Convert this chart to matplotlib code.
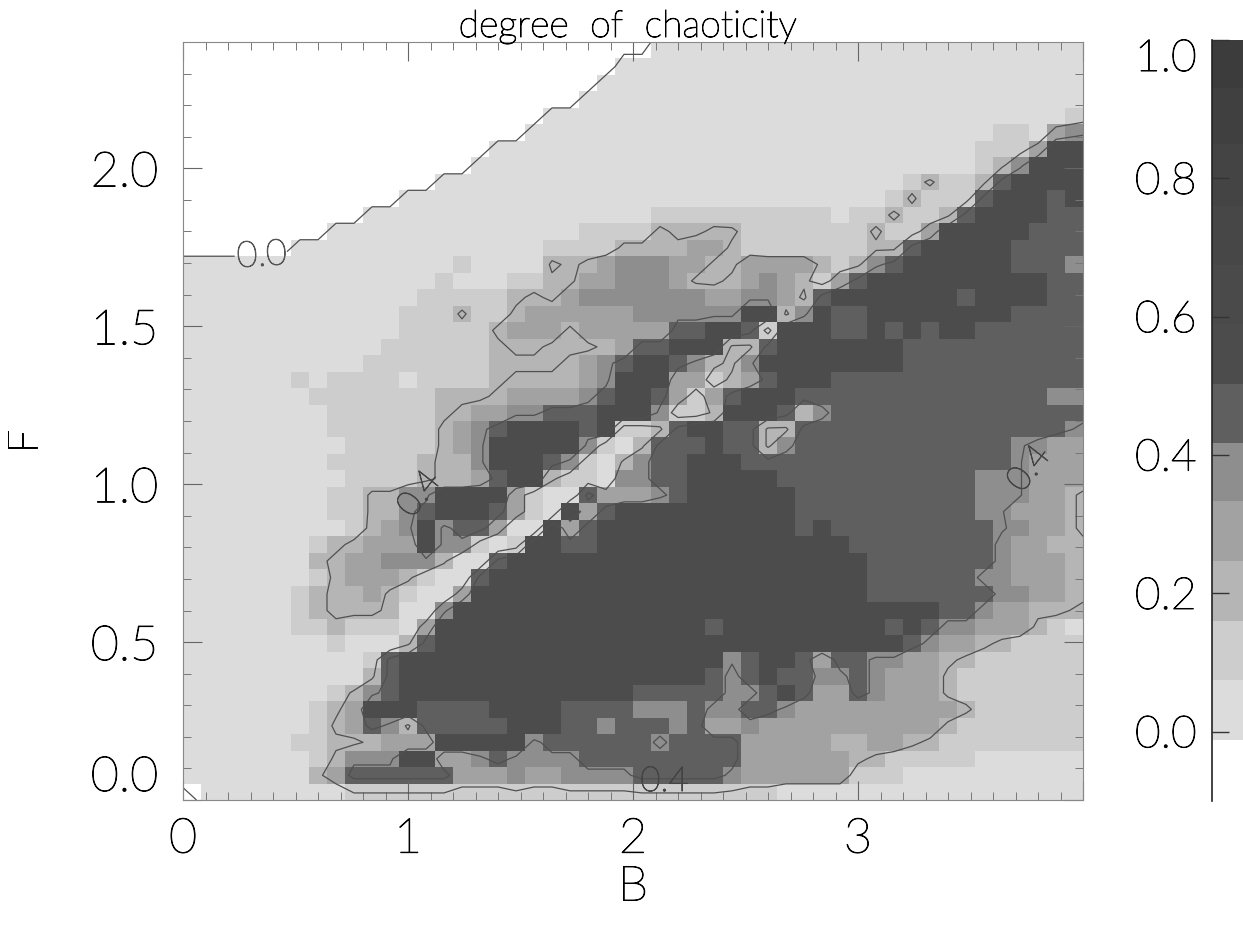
#!/usr/bin/env python

import numpy as np
import matplotlib
matplotlib.use('Agg')
import matplotlib.pyplot as plt
import matplotlib.patheffects as pe
from matplotlib.colors import ListedColormap, BoundaryNorm
from matplotlib.text import Text
from matplotlib.ticker import MultipleLocator, FixedLocator

plt.rcParams['font.family'] = ['Lato', 'DejaVu Sans']
plt.rcParams['font.weight'] = 'light'

# chaoticity, top row first, one character per cell
# '.' = no chaos at all (white), the others are grey steps, see step_values
rows = [
    ".......... .......... ......0000 0000000000 0000000000",
    ".......... .......... ....000000 0000000000 0000000000",
    ".......... .......... ...0000000 0000000000 0000000000",
    ".......... .......... ..00000000 0000000000 0000000000",
    ".......... .......... 0000000000 0000000000 0000000001",
    ".......... .........0 0000000000 0000000000 0000011056",
    ".......... .......000 0000000000 0000000000 0000112588",
    ".......... ......0000 0000000000 0000000000 0000136888",
    ".......... ....000000 0000000000 0000000000 2411378888",
    ".......... ..00000000 0000000000 0000000001 4112788878",
    ".......... 0000000000 0000002222 1222210124 2137888877",
    "........00 0000000000 0011224334 4222211242 2588888777",
    "......0000 0000000000 1122444455 3211111233 7888887777",
    "0000000000 0000020000 4345666553 3555532367 888888777a",
    "0000000000 0000200012 3355666533 4565425788 8888888877",
    "0000000000 0001111234 3566666665 5665378888 8887888877",
    "0000000000 0011141245 5555566666 6883687788 8888887777",
    "0000000000 0011122455 5355555778 8728887787 8788777777",
    "0000000000 0111222344 3334577888 3378888888 7777777777",
    "0000000000 1122222333 3456788764 3688888888 7777777777",
    "0000002012 2201222344 4456888552 4578887777 7777777777",
    "0000000122 2222333455 5567887525 7888777777 77777777aa",
    "0000000012 2222345566 7778886114 8887467777 7777777777",
    "0000000011 1122456788 8878113788 7733777777 7777777776",
    "0000000001 1122456888 8861037778 7736777777 777777a655",
    "0000000012 1223446888 7610467788 8777777777 777777a555",
    "0000000001 1113445788 4110667788 8887777777 7777aaa555",
    "0000000011 4466888851 0075556788 8888777777 7777aaa553",
    "0000000011 4467888751 0857888888 8888777777 7777aa5553",
    "0000000002 4568677500 8578888888 8888787777 77777a6553",
    "0000000134 5558662018 8778888888 8888888777 7777765544",
    "0000000345 5666400788 8888888888 8888888877 7777765554",
    "0000000245 5541007888 8888888888 8888888877 7777665554",
    "0000002344 5310058888 8888888888 8888888877 7777766554",
    "0000002344 4300688888 8888888888 8888888888 8877655443",
    "0000001132 2105888888 8888888887 8888888887 8766555320",
    "0000000010 0037888888 8888888888 8888888888 7655432221",
    "0000000000 1788888888 8888888888 a788757766 5543222111",
    "0000000000 3788888888 8888888887 6787766765 5532222111",
    "0000000014 6788888888 8888877777 6678755765 5532211111",
    "0000000135 8887777888 87777aaa76 6776555555 5554211111",
    "0000000145 7637777788 877a777a75 5655555555 5531111111",
    "0000002233 4555888886 7777776777 7555554455 4311111111",
    "0000000146 6688556766 6677777777 7555555432 1111000000",
    "0000000357 7777755565 5666677777 6555555211 0000000000",
    ".000000001 1111111111 1111111111 1110000000 0000000000",
]
step_values = {'.': -0.1, '0': 0.03, '1': 0.10, '2': 0.13, '3': 0.17, '4': 0.23,
               '5': 0.29, '6': 0.37, 'a': 0.41, '7': 0.45, '8': 0.56, '9': 0.66}

contour_levels = [-0.035, 0.2, 0.4]
contour_names = {-0.035: '0.0', 0.2: '0.2', 0.4: '0.4'}

# the grey steps of the colour bar
bar_bounds = [-0.1, -0.012, 0.075, 0.16, 0.247, 0.333, 0.417, 0.503,
              0.59, 0.675, 0.76, 0.85, 0.93, 1.0]
bar_greys = ['#ffffff', '#dcdcdc', '#cdcdcd', '#b5b5b5', '#a2a2a2', '#8e8e8e',
             '#5f5f5f', '#4c4c4c', '#4a4a4a', '#474747', '#444444', '#404040',
             '#3c3c3c']

xticks = [0, 1, 2, 3]
yticks = [0.0, 0.5, 1.0, 1.5, 2.0]
barticks = [0.0, 0.2, 0.4, 0.6, 0.8, 1.0]

# build the grid
cells = [r.replace(' ', '') for r in rows]
bad = [i for i, c in enumerate(cells) if len(c) != 50]
if bad or len(cells) != 46:
    raise ValueError('bad rows %s %d' % (bad, len(cells)))
z = np.array([[step_values[ch] for ch in c] for c in cells])[::-1]

nrow, ncol = z.shape
xedges = np.linspace(0.0, 4.0, ncol + 1)
yedges = np.linspace(0.0, 2.4, nrow + 1)
xnodes = 0.5 * (xedges[1:] + xedges[:-1])
ynodes = 0.5 * (yedges[1:] + yedges[:-1])
# let the lines run up to the frame
xnodes[0], xnodes[-1] = xedges[0], xedges[-1]
ynodes[0], ynodes[-1] = yedges[0], yedges[-1]

W, H = 1243.0, 932.0
fig = plt.figure(figsize=(W / 100, H / 100), dpi=100)
ax = fig.add_axes([183 / W, (H - 800) / H, 900 / W, 758 / H])

cmap = ListedColormap(bar_greys)
norm = BoundaryNorm(bar_bounds, cmap.N)
mesh = ax.pcolormesh(xedges, yedges, z, cmap=cmap, norm=norm, linewidth=0,
                     rasterized=True)

cs = ax.contour(xnodes, ynodes, z, levels=contour_levels, colors='#505050',
                linewidths=0.9, negative_linestyles='solid')
ax.clabel(cs, fmt=contour_names, fontsize=26, colors='#555555',
          inline=True, inline_spacing=2, manual=[(0.35, 1.72)])
# the other labels on the lines
ax.text(2.14, 0.06, '0.4', ha='center', va='center', fontsize=25, color='#444444')
ax.text(1.05, 0.97, '0.4', rotation=52, ha='center', va='center', fontsize=25,
        color='#444444')
ax.text(3.76, 1.05, '0.4', rotation=52, ha='center', va='center', fontsize=25,
        color='#444444')

ax.set_xlim(0, 4)
ax.set_ylim(0, 2.4)

# frame and ticks
for s in ax.spines.values():
    s.set_linewidth(0.8)
    s.set_color('#888888')
ax.xaxis.set_major_locator(FixedLocator(xticks + [4]))
ax.xaxis.set_minor_locator(MultipleLocator(0.1))
ax.yaxis.set_major_locator(FixedLocator(yticks))
ax.yaxis.set_minor_locator(MultipleLocator(0.1))
ax.tick_params(which='major', direction='in', top=True, right=True, length=14,
               width=0.8, color='#666666', labelsize=35, labelcolor='#000000')
ax.tick_params(which='minor', direction='in', top=True, right=True, length=6,
               width=0.7, color='#777777')
ax.tick_params(axis='x', pad=12)
ax.tick_params(axis='y', pad=18)
ax.set_xticklabels([str(t) for t in xticks] + [''])
ax.set_yticklabels(['%.1f' % t for t in yticks])
ax.get_yticklabels()[0].set_verticalalignment('bottom')

fig.text(628 / W, 1 - 27 / H, 'degree  of  chaoticity', ha='center', va='center',
         fontsize=27, color='#000000')
fig.text(633 / W, 1 - 887 / H, 'B', ha='center', va='center', fontsize=35,
         color='#000000')
fig.text(26 / W, 1 - 441 / H, 'F', ha='center', va='center', rotation=90,
         fontsize=30, color='#000000')

# colour bar runs off the right edge of the picture
cax = fig.add_axes([1212 / W, (H - 801) / H, 40 / W, 761 / H])
cb = fig.colorbar(mesh, cax=cax, spacing='proportional', drawedges=False)
cb.outline.set_visible(False)
cax.yaxis.set_ticks_position('left')
cb.set_ticks(barticks)
cb.minorticks_off()
cb.set_ticklabels(['%.1f' % t for t in barticks])
cax.tick_params(axis='y', direction='in', length=12, width=1.0, color='#333333',
                labelsize=32, labelcolor='#000000', pad=11)
cax.get_yticklabels()[-1].set_verticalalignment('top')
cax.plot([0, 0], [0, 1], transform=cax.transAxes, color='#222222', lw=1.2,
         clip_on=False)

# the light font is a bit too thin, thicken all the text slightly
for t in fig.findobj(Text):
    t.set_path_effects([pe.withStroke(linewidth=0.7, foreground=t.get_color())])

fig.savefig('out.png', dpi=100)
